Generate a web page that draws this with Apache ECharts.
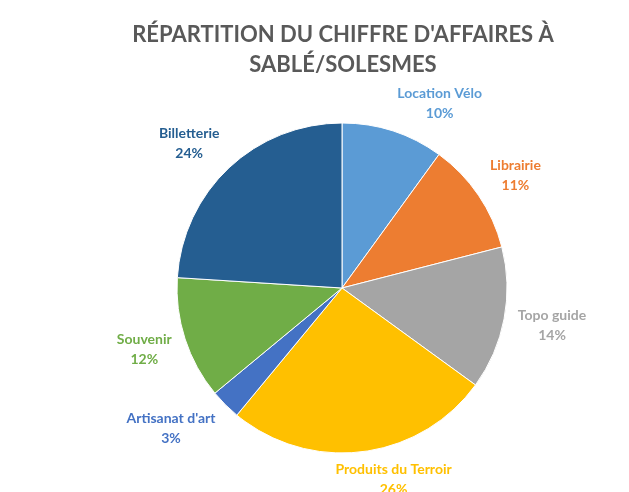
<!DOCTYPE html>
<html lang="fr">
<head>
    <meta charset="UTF-8">
    <title>Répartition du chiffre d'affaires</title>
    <style>
        html, body { margin: 0; padding: 0; background: #ffffff; }
        #chart { width: 629px; height: 492px; }
    </style>
</head>
<body>
<div id="chart"></div>
<script src="https://cdn.jsdelivr.net/npm/echarts@6/dist/echarts.min.js"></script>
<script>
    // données
    var categories = ['Location Vélo', 'Librairie', 'Topo guide', 'Produits du Terroir', "Artisanat d'art", 'Souvenir', 'Billetterie'];
    var values = [10, 11, 14, 26, 3, 12, 24];
    var colors = ['#5B9BD5', '#ED7D31', '#A5A5A5', '#FFC000', '#4472C4', '#70AD47', '#255E91'];

    var cx = 342, cy = 288, radius = 165, labelGap = 14;
    var total = values.reduce(function (a, b) { return a + b; }, 0);

    // angle milieu de chaque part (sens horaire depuis midi)
    function midAngle(i) {
        var before = 0;
        for (var k = 0; k < i; k++) before += values[k];
        return (before + values[i] / 2) / total * Math.PI * 2;
    }
    function clamp(t) { return Math.max(-1, Math.min(1, t)); }

    var chart = echarts.init(document.getElementById('chart'));
    var option = {
        backgroundColor: '#ffffff',
        title: {
            text: "RÉPARTITION DU CHIFFRE D'AFFAIRES À\nSABLÉ/SOLESMES",
            left: 338,
            textAlign: 'center',
            top: 15,
            textStyle: {
                fontFamily: 'Lato',
                fontWeight: 'bold',
                fontSize: 22,
                lineHeight: 30,
                color: '#595959'
            }
        },
        series: [{
            type: 'pie',
            center: [cx, cy],
            radius: radius,
            startAngle: 90,
            clockwise: true,
            animation: false,
            itemStyle: {
                borderColor: '#ffffff',
                borderWidth: 1
            },
            label: {
                show: true,
                position: 'outside',
                formatter: '{b}\n{c}%',
                fontFamily: 'Lato',
                fontWeight: 'bold',
                fontSize: 14,
                lineHeight: 20,
                align: 'center',
                overflow: 'none',
                color: 'inherit'
            },
            labelLine: { show: false },
            // étiquette posée contre le bord extérieur de la part
            labelLayout: function (params) {
                var a = midAngle(params.dataIndex);
                var ux = Math.sin(a), uy = -Math.cos(a);
                var hw = params.labelRect.width / 2, hh = params.labelRect.height / 2;
                return {
                    x: cx + (radius + labelGap) * ux + hw * clamp(ux * 4),
                    y: cy + (radius + labelGap) * uy + hh * 0.7 * clamp(uy * 1.5),
                    align: 'center',
                    verticalAlign: 'middle'
                };
            },
            data: categories.map(function (name, i) {
                return {
                    name: name,
                    value: values[i],
                    itemStyle: { color: colors[i] },
                    label: { color: colors[i] }
                };
            })
        }]
    };
    chart.setOption(option);
</script>
</body>
</html>
